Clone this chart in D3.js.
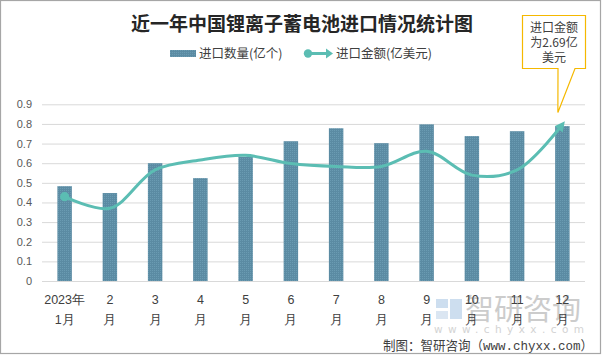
<!DOCTYPE html>
<html>
<head>
<meta charset="utf-8">
<script src="https://cdn.jsdelivr.net/npm/d3@7/dist/d3.min.js"></script>
<style>
  html, body { margin: 0; padding: 0; background: #fff; }
  svg { display: block; font-family: "Noto Sans CJK SC", "Microsoft YaHei", sans-serif; }
</style>
</head>
<body>
<div id="chart"></div>
<script>
// ---- data ----
const categories = ["2023年1月","2月","3月","4月","5月","6月","7月","8月","9月","10月","11月","12月"];
const tickLine1 = ["2023年","2","3","4","5","6","7","8","9","10","11","12"];
const tickLine2 = ["1月","月","月","月","月","月","月","月","月","月","月","月"];
const quantity = [0.483, 0.448, 0.600, 0.524, 0.633, 0.712, 0.778, 0.702, 0.798, 0.738, 0.763, 0.789]; // 亿个
const amount   = [1.45, 1.25, 1.91, 2.08, 2.16, 2.02, 1.97, 1.97, 2.23, 1.82, 1.91, 2.69];             // 亿美元
const yTicks = [0, 0.1, 0.2, 0.3, 0.4, 0.5, 0.6, 0.7, 0.8, 0.9];
const seriesNames = ["进口数量(亿个)", "进口金额(亿美元)"];
const titleText = "近一年中国锂离子蓄电池进口情况统计图";
const calloutLines = ["进口金额", "为2.69亿", "美元"];
const footerText = "制图：智研咨询（www.chyxx.com）";

// ---- layout ----
const W = 605, H = 356;
const plot = { left: 42, right: 585, top: 104.3, bottom: 281 };
const barColor = "#5b8ba3", lineColor = "#5bbdb3";

const svg = d3.select("#chart").append("svg").attr("width", W).attr("height", H);
const defs = svg.append("defs");

// dotted bar texture
const pat = defs.append("pattern").attr("id", "barPat").attr("width", 2).attr("height", 2)
  .attr("patternUnits", "userSpaceOnUse");
pat.append("rect").attr("width", 2).attr("height", 2).attr("fill", barColor);
pat.append("rect").attr("width", 1).attr("height", 1).attr("fill", "#6a9bb2");

// arrow marker
defs.append("marker").attr("id", "arrow").attr("viewBox", "0 0 10 10")
  .attr("refX", 6).attr("refY", 5).attr("markerWidth", 3.4).attr("markerHeight", 3.4)
  .attr("orient", "auto").attr("markerUnits", "strokeWidth")
  .append("path").attr("d", "M0,0 L10,5 L0,10 Z").attr("fill", lineColor);

// background + frame
svg.append("rect").attr("width", W).attr("height", H).attr("fill", "#fff");
svg.append("rect").attr("x", 0.5).attr("y", 0.5).attr("width", 600).attr("height", 353)
  .attr("fill", "none").attr("stroke", "#a6a6a6").attr("stroke-width", 1.2);

// watermark (behind chart content)
const wm = svg.append("g").attr("opacity", 0.5);
wm.append("rect").attr("x", 436).attr("y", 299).attr("width", 12).attr("height", 9).attr("fill", "#9dbfe0");
wm.append("rect").attr("x", 450).attr("y", 299).attr("width", 12).attr("height", 20).attr("fill", "#9dbfe0");
wm.append("rect").attr("x", 436).attr("y", 311).attr("width", 12).attr("height", 8).attr("fill", "#b8cfe6");
wm.append("text").attr("x", 465).attr("y", 320).attr("fill", "#9a9a9a").style("font-size", "29px")
  .text("智研咨询");
wm.append("text").attr("x", 434).attr("y", 333).attr("fill", "#a8a8a8").style("font-size", "10.5px")
  .attr("textLength", 150).attr("lengthAdjust", "spacing").style("font-family", "'DejaVu Sans', sans-serif")
  .text("www.chyxx.com");

// scales
const x = d3.scaleBand().domain(categories).range([plot.left, plot.right])
  .paddingInner(0.68).paddingOuter(0.34);
const y = d3.scaleLinear().domain([0, 0.9]).range([plot.bottom, plot.top]);
const y2 = d3.scaleLinear().domain([0, 2.69 / 0.797 * 0.9]).range([plot.bottom, plot.top]);

// grid
const grid = svg.append("g").attr("transform", `translate(${plot.left},0)`)
  .call(d3.axisLeft(y).tickValues(yTicks).tickSize(-(plot.right - plot.left)).tickFormat(""));
grid.select(".domain").remove();
grid.selectAll("line").attr("stroke", "#d9d9d9").attr("stroke-width", 1);

// y axis labels
const yAxis = svg.append("g").attr("transform", `translate(32,0)`)
  .call(d3.axisLeft(y).tickValues(yTicks).tickSize(0).tickPadding(0).tickFormat(d => d === 0 ? "0" : d3.format(".1f")(d)));
yAxis.select(".domain").remove();
yAxis.selectAll("text").attr("fill", "#595959").style("font-size", "11px")
  .style("font-family", "'Liberation Sans', Arial, sans-serif");

// bars
svg.append("g").selectAll("rect").data(quantity).join("rect")
  .attr("x", (d, i) => x(categories[i]))
  .attr("y", d => y(d))
  .attr("width", x.bandwidth())
  .attr("height", d => y(0) - y(d))
  .attr("fill", "url(#barPat)");

// line
const cx = i => x(categories[i]) + x.bandwidth() / 2;
const line = d3.line().x((d, i) => cx(i)).y(d => y2(d)).curve(d3.curveCatmullRom.alpha(0.5));
svg.append("path").datum(amount).attr("d", line)
  .attr("fill", "none").attr("stroke", lineColor).attr("stroke-width", 3)
  .attr("stroke-linecap", "round").attr("marker-end", "url(#arrow)");
svg.append("circle").attr("cx", cx(0)).attr("cy", y2(amount[0])).attr("r", 4.6).attr("fill", lineColor);

// x axis labels
const xAxis = svg.append("g").attr("transform", `translate(0,${plot.bottom})`)
  .call(d3.axisBottom(x).tickSize(0).tickFormat(""));
xAxis.select(".domain").remove();
xAxis.selectAll(".tick").each(function (d, i) {
  const t = d3.select(this).append("text").attr("fill", "#404040").attr("text-anchor", "middle")
    .style("font-size", "12.5px");
  t.append("tspan").attr("x", 0).attr("y", 23).text(tickLine1[i]);
  t.append("tspan").attr("x", 0).attr("y", 43).text(tickLine2[i]);
});

// title
svg.append("text").attr("x", 302).attr("y", 31).attr("text-anchor", "middle")
  .attr("fill", "#262626").style("font-size", "19px").style("font-weight", "bold")
  .text(titleText);

// legend
const lg = svg.append("g");
lg.append("rect").attr("x", 170).attr("y", 50).attr("width", 26).attr("height", 7).attr("fill", "url(#barPat)");
lg.append("text").attr("x", 199).attr("y", 58).attr("fill", "#404040").style("font-size", "12.5px").text(seriesNames[0]);
lg.append("line").attr("x1", 308).attr("x2", 328).attr("y1", 53.5).attr("y2", 53.5)
  .attr("stroke", lineColor).attr("stroke-width", 3);
lg.append("circle").attr("cx", 308).attr("cy", 53.5).attr("r", 4.2).attr("fill", lineColor);
lg.append("path").attr("d", "M326,48.5 L333,53.5 L326,58.5 Z").attr("fill", lineColor);
lg.append("text").attr("x", 336).attr("y", 58).attr("fill", "#404040").style("font-size", "12.5px").text(seriesNames[1]);

// callout
const last = amount.length - 1;
const tipX = cx(last) - 4.5, tipY = y2(amount[last]) - 12;
const bx0 = 522.5, bx1 = 585.5, by0 = 15.5, by1 = 68.5;
svg.append("path")
  .attr("d", `M${bx0},${by0} L${bx1},${by0} L${bx1},${by1} L575,${by1} L${tipX},${tipY} L558,${by1} L${bx0},${by1} Z`)
  .attr("fill", "#fff").attr("stroke", "#f5b800").attr("stroke-width", 1.2);
calloutLines.forEach((s, i) => {
  svg.append("text").attr("x", 554).attr("y", 32 + i * 15).attr("text-anchor", "middle")
    .attr("fill", "#404040").style("font-size", "12px").text(s);
});

// footer
svg.append("text").attr("x", 593).attr("y", 350).attr("text-anchor", "end").attr("fill", "#404040")
  .style("font-size", "13px").style("font-family", "'Liberation Mono', 'Noto Sans CJK SC', monospace")
  .attr("textLength", 210).attr("lengthAdjust", "spacingAndGlyphs")
  .text(footerText);
</script>
</body>
</html>
